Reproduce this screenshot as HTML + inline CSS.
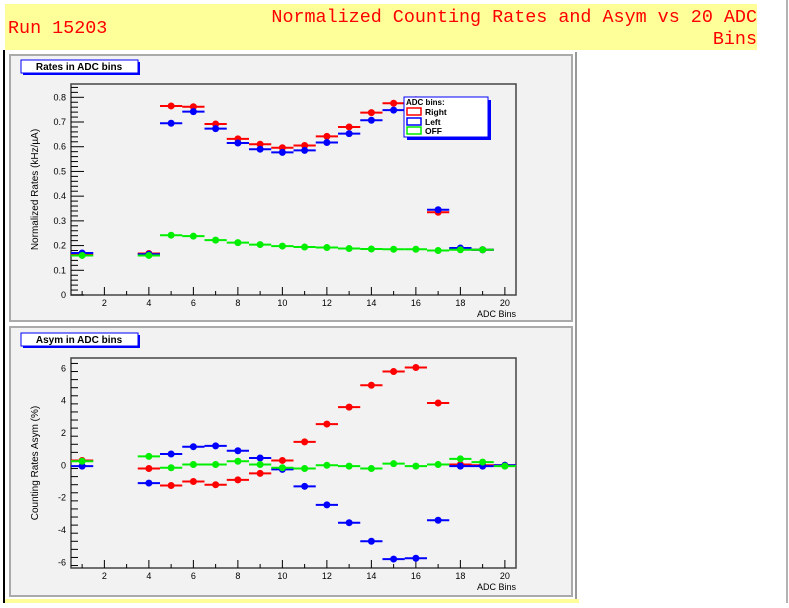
<!DOCTYPE html>
<html><head><meta charset="utf-8"><style>
body{margin:0;background:#fff;width:789px;height:603px;overflow:hidden;font-family:"Liberation Sans",sans-serif}
svg text{font-family:"Liberation Sans",sans-serif}
</style></head><body>
<svg id="c" width="789" height="603" xmlns="http://www.w3.org/2000/svg">
<rect x="5" y="4" width="752" height="46" fill="#ffff99"/>
<text x="8" y="33" font-size="18.4" fill="#ff0000" style="font-family:'Liberation Mono',monospace">Run 15203</text>
<text x="757" y="22" text-anchor="end" font-size="18.4" fill="#ff0000" style="font-family:'Liberation Mono',monospace">Normalized Counting Rates and Asym vs 20 ADC</text>
<text x="757" y="44" text-anchor="end" font-size="18.4" fill="#ff0000" style="font-family:'Liberation Mono',monospace">Bins</text>
<line x1="4" y1="50" x2="4" y2="603" stroke="#000" stroke-width="2"/>
<line x1="576" y1="52" x2="576" y2="600" stroke="#999" stroke-width="2"/>
<line x1="787" y1="0" x2="787" y2="603" stroke="#999" stroke-width="1.5"/>
<rect x="5" y="599" width="574" height="4" fill="#ffff99"/>
<rect x="10" y="55" width="562" height="266" fill="#f2f2f2" stroke="#aaa" stroke-width="2"/>
<rect x="10" y="327" width="562" height="269" fill="#f2f2f2" stroke="#aaa" stroke-width="2"/>
<g id="g1"></g><g id="g2"></g>
</svg>
<script>
const bins=[1,2,3,4,5,6,7,8,9,10,11,12,13,14,15,16,17,18,19,20];
const rateRight=[0.165,null,null,0.168,0.765,0.762,0.692,0.632,0.61,0.596,0.605,0.642,0.68,0.738,0.776,0.79,0.335,0.185,0.183,null];
const rateLeft=[0.17,null,null,0.165,0.695,0.742,0.673,0.615,0.59,0.577,0.585,0.617,0.653,0.707,0.748,0.76,0.345,0.19,0.183,null];
const rateOff=[0.16,null,null,0.16,0.242,0.238,0.222,0.212,0.204,0.198,0.194,0.192,0.188,0.186,0.185,0.185,0.18,0.183,0.183,null];
const asymRight=[0.3,null,null,-0.2,-1.25,-1.0,-1.2,-0.9,-0.5,0.3,1.45,2.55,3.6,4.95,5.8,6.05,3.85,0.05,0,0];
const asymLeft=[-0.05,null,null,-1.1,0.7,1.15,1.2,0.9,0.45,-0.25,-1.3,-2.45,-3.55,-4.7,-5.8,-5.75,-3.4,-0.05,-0.05,0];
const asymOff=[0.25,null,null,0.55,-0.15,0.05,0.05,0.25,0.05,-0.15,-0.2,0,-0.05,-0.2,0.1,-0.05,0.05,0.4,0.2,-0.05];
const xTicks=[2,4,6,8,10,12,14,16,18,20];
const rateTicks=[0,0.1,0.2,0.3,0.4,0.5,0.6,0.7,0.8];
const asymTicks=[-6,-4,-2,0,2,4,6];
const NS='http://www.w3.org/2000/svg';
function mk(p,t,a){const e=document.createElementNS(NS,t);for(const k in a)e.setAttribute(k,a[k]);p.appendChild(e);return e;}
const FX0=71,FX1=516;
function sx(v){return FX0+(v-0.5)*(FX1-FX0)/20;}
function panel(g,o){
  const sy=v=>o.y0+(v-o.v0)*(o.y1-o.y0)/(o.v1-o.v0);
  const tb=mk(g,'rect',{x:o.tx+2,y:o.ty+2,width:117,height:13,fill:'#0000ff'});
  
  
  const tr=mk(g,'rect',{x:o.tx,y:o.ty,width:117,height:13,fill:'#fff',stroke:'#0000ff'});
  
  
  const tt=mk(g,'text',{x:o.tx+58,y:o.ty+10,'font-size':10,'font-weight':'bold','text-anchor':'middle'});tt.textContent=o.title;
  
  
  const fr=mk(g,'rect',{x:FX0,y:o.ft,width:FX1-FX0,height:o.fb-o.ft,fill:'#f2f2f2',stroke:'#444','stroke-width':1.5});
  
  
  for(let v=1;v<=20;v++){const x=sx(v);mk(g,'line',{x1:x,x2:x,y1:o.fb,y2:o.fb-(v%2==0?8:4),stroke:'#000'});}
  for(const v of xTicks){const t=mk(g,'text',{x:sx(v),y:o.fb+11,'font-size':9,'text-anchor':'middle'});t.textContent=v;
    
    }
  const xl=mk(g,'text',{x:FX1,y:o.fb+22,'font-size':9,'text-anchor':'end'});xl.textContent='ADC Bins';
  
  
  const minor=o.minor;
  for(let v=o.ymin;v<=o.ymax+1e-9;v+=minor){const y=sy(v);const major=Math.abs(v/o.major-Math.round(v/o.major))<1e-6;
    mk(g,'line',{x1:FX0,x2:FX0+(major?13:7),y1:y,y2:y,stroke:'#000'});}
  for(const v of o.ticks){const t=mk(g,'text',{x:FX0-5,y:sy(v)+3,'font-size':9,'text-anchor':'end'});t.textContent=v;
    
    }
  const yl=mk(g,'text',{transform:`translate(${o.ylx},${(o.ft+o.fb)/2}) rotate(-90)`,'font-size':10,'text-anchor':'middle'});yl.textContent=o.ytitle;
  
  
  const series=[[o.r,'#ff0000','right'],[o.l,'#0000ff','left'],[o.o,'#00ee00','off']];
  for(const [arr,col,nm] of series){
    const sg=mk(g,'g',{});
    
    
    arr.forEach((v,i)=>{if(v==null)return;const b=bins[i];const y=sy(v);
      const ln=mk(sg,'line',{x1:sx(b-0.5),x2:Math.min(sx(b+0.5),FX1),y1:y,y2:y,stroke:col,'stroke-width':2});
      
      
      const c=mk(sg,'circle',{cx:sx(b),cy:y,r:3.5,fill:col});
      
      });
  }
}
const g1=document.getElementById('g1'),g2=document.getElementById('g2');
panel(g1,{name:'rates',title:'Rates in ADC bins',tx:21,ty:60,ft:84,fb:295,y0:295,y1:97.3,v0:0,v1:0.8,ymin:0,ymax:0.85,minor:0.02,major:0.1,ticks:rateTicks,ytitle:'Normalized Rates (kHz/\u00b5A)',ylx:38,r:rateRight,l:rateLeft,o:rateOff});
panel(g2,{name:'asym',title:'Asym in ADC bins',tx:21,ty:333,ft:358,fb:568,y0:465.3,y1:368.3,v0:0,v1:6,ymin:-6.2,ymax:6.6,minor:0.5,major:2,ticks:asymTicks,ytitle:'Counting Rates Asym (%)',ylx:38,r:asymRight,l:asymLeft,o:asymOff});
const lg=mk(g1,'g',{});


mk(lg,'rect',{x:407,y:100,width:84,height:40,fill:'#0000ff'});
mk(lg,'rect',{x:404,y:97,width:84,height:40,fill:'#fff',stroke:'#0000ff'});
const lt=mk(lg,'text',{x:406,y:105,'font-size':8,'font-weight':'bold'});lt.textContent='ADC bins:';


[['Right','#ff0000',112],['Left','#0000ff',122],['OFF','#00ee00',131]].forEach(([t,c,y])=>{
  const e=mk(lg,'g',{});
  
  
  mk(e,'rect',{x:407,y:y-4,width:14,height:7,fill:'none',stroke:c,'stroke-width':1.5});
  const tx=mk(e,'text',{x:425,y:y+3,'font-size':8.5,'font-weight':'bold'});tx.textContent=t;});
</script>
</body></html>
